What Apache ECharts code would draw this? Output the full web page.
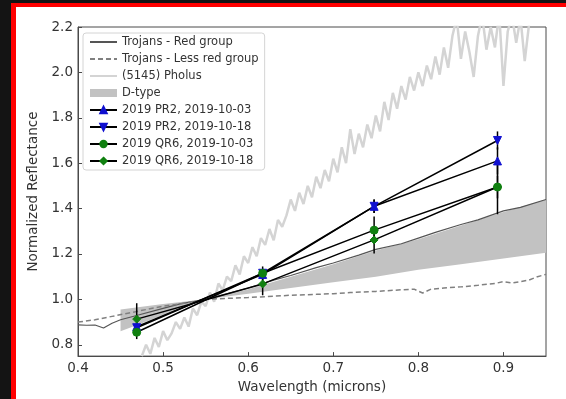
<!DOCTYPE html>
<html>
<head>
<meta charset="utf-8">
<script src="https://cdn.jsdelivr.net/npm/echarts@6/dist/echarts.min.js"></script>
<style>
  html, body { margin: 0; padding: 0; background: #141414; }
  #frame { position: absolute; left: 11px; top: 3px; width: 550px; height: 392px;
           border-left: 5px solid #f00; border-top: 4px solid #f00; background: #fff; }
  #chart { width: 550px; height: 392px; }
</style>
</head>
<body>
<div id="frame"><div id="chart"></div></div>
<script>
// tick labels
const xTicks = [0.4, 0.5, 0.6, 0.7, 0.8, 0.9];
const yTicks = [0.8, 1.0, 1.2, 1.4, 1.6, 1.8, 2.0, 2.2];

// Trojans - Red group
const redWl   = [0.40, 0.41, 0.42, 0.43, 0.44, 0.45, 0.47, 0.50, 0.52, 0.55, 0.58, 0.60, 0.63, 0.65, 0.68, 0.70, 0.73, 0.75, 0.78, 0.80, 0.82, 0.85, 0.87, 0.90, 0.92, 0.95];
const redRefl = [0.888, 0.886, 0.887, 0.874, 0.895, 0.91, 0.93, 0.96, 0.98, 1.0, 1.03, 1.05, 1.085, 1.105, 1.14, 1.16, 1.195, 1.22, 1.245, 1.27, 1.295, 1.33, 1.35, 1.39, 1.405, 1.44];

// Trojans - Less red group
const lessWl   = [0.40, 0.42, 0.44, 0.46, 0.48, 0.50, 0.52, 0.55, 0.58, 0.60, 0.62, 0.65, 0.68, 0.70, 0.72, 0.75, 0.78, 0.795, 0.805, 0.815, 0.83, 0.85, 0.87, 0.89, 0.90, 0.91, 0.93, 0.94, 0.95];
const lessRefl = [0.90, 0.91, 0.925, 0.94, 0.955, 0.97, 0.98, 1.0, 1.005, 1.008, 1.012, 1.018, 1.022, 1.025, 1.03, 1.035, 1.042, 1.045, 1.028, 1.045, 1.05, 1.055, 1.062, 1.07, 1.078, 1.072, 1.085, 1.10, 1.11];

// (5145) Pholus
const pholusWl = [0.475, 0.48, 0.485, 0.49, 0.495, 0.50, 0.505, 0.51, 0.515, 0.52, 0.525, 0.53, 0.535, 0.54, 0.545, 0.55, 0.555, 0.56, 0.565, 0.57, 0.575, 0.58, 0.585, 0.59, 0.595,
  0.60, 0.605, 0.61, 0.615, 0.62, 0.625, 0.63, 0.635, 0.64, 0.645, 0.65, 0.655, 0.66, 0.665, 0.67, 0.675, 0.68, 0.685, 0.69, 0.695,
  0.70, 0.705, 0.71, 0.715, 0.72, 0.725, 0.73, 0.735, 0.74, 0.745, 0.75, 0.755, 0.76, 0.765, 0.77, 0.775, 0.78, 0.785, 0.79, 0.795,
  0.80, 0.805, 0.81, 0.815, 0.82, 0.825, 0.83, 0.835, 0.84, 0.845, 0.85, 0.855, 0.86, 0.865, 0.87, 0.875, 0.88, 0.885, 0.89, 0.895,
  0.90, 0.905, 0.91, 0.915, 0.92, 0.925, 0.93];
const pholusRefl = [0.75, 0.80, 0.76, 0.83, 0.79, 0.86, 0.82, 0.85, 0.90, 0.87, 0.92, 0.88, 0.96, 0.93, 0.99, 0.97, 1.03, 0.99, 1.07, 1.04, 1.10, 1.08, 1.15, 1.11, 1.19,
  1.16, 1.23, 1.19, 1.27, 1.24, 1.31, 1.26, 1.35, 1.32, 1.37, 1.44, 1.39, 1.47, 1.42, 1.50, 1.45, 1.54, 1.49, 1.57, 1.52,
  1.62, 1.56, 1.67, 1.60, 1.75, 1.64, 1.73, 1.67, 1.77, 1.71, 1.81, 1.74, 1.87, 1.79, 1.91, 1.84, 1.94, 1.88, 1.98, 1.92,
  2.00, 1.94, 2.03, 1.97, 2.07, 1.99, 2.11, 2.02, 2.16, 2.24, 2.06, 2.18, 2.09, 1.98, 2.16, 2.25, 2.10, 2.20, 2.11, 2.26,
  1.94, 2.18, 2.25, 2.13, 2.24, 2.05, 2.21];

// D-type envelope
const dWl   = [0.45, 0.50, 0.55, 0.60, 0.65, 0.70, 0.75, 0.80, 0.85, 0.90, 0.95];
const dLow  = [0.86, 0.93, 1.0, 1.025, 1.05, 1.075, 1.10, 1.13, 1.155, 1.18, 1.205];
const dHigh = [0.955, 0.98, 1.0, 1.045, 1.10, 1.155, 1.215, 1.265, 1.325, 1.385, 1.44];

// photometry (g, r, i, z)
const obsWl = [0.469, 0.617, 0.748, 0.893];
const pr2Oct03 = [0.88, 1.11, 1.41, 1.61];
const pr2Oct03Err = [0.03, 0.02, 0.03, 0.06];
const pr2Oct18 = [0.875, 1.115, 1.41, 1.70];
const pr2Oct18Err = [0.03, 0.02, 0.03, 0.04];
const qr6Oct03 = [0.855, 1.115, 1.305, 1.495];
const qr6Oct03Err = [0.03, 0.03, 0.06, 0.12];
const qr6Oct18 = [0.913, 1.068, 1.262, 1.495];
const qr6Oct18Err = [0.07, 0.05, 0.06, 0.05];

const FONT = 'DejaVu Sans';
const zip = (xs, ys) => xs.map((x, i) => [x, ys[i]]);

function obsSeries(name, vals, symbol, color, rotate) {
  return {
    name: name, type: 'line', z: 6,
    data: zip(obsWl, vals),
    symbol: symbol, symbolSize: 8, symbolRotate: rotate || 0,
    itemStyle: { color: color, borderColor: color, borderWidth: 1 },
    lineStyle: { color: '#000', width: 1.5 }
  };
}

function errSeries(vals, errs) {
  return {
    type: 'custom', z: 5, silent: true,
    data: obsWl.map((x, i) => [x, vals[i] - errs[i], vals[i] + errs[i]]),
    renderItem: function (params, api) {
      const lo = api.coord([api.value(0), api.value(1)]);
      const hi = api.coord([api.value(0), api.value(2)]);
      return {
        type: 'line',
        shape: { x1: lo[0], y1: lo[1], x2: hi[0], y2: hi[1] },
        style: { stroke: '#000', lineWidth: 1.5 }
      };
    }
  };
}

let chart = echarts.init(document.getElementById('chart'));

const noSymbol = { opacity: 0 };

let option = {
  animation: false,
  textStyle: { fontFamily: FONT },
  grid: { left: 62, top: 20, right: 20, bottom: 35, show: true, borderColor: '#4a4a4a', borderWidth: 1 },
  legend: {
    orient: 'vertical', left: 67, top: 26,
    padding: [3, 6, 3, 6],
    itemWidth: 27, itemHeight: 8, itemGap: 5,
    backgroundColor: '#fff', borderColor: '#d4d4d4', borderWidth: 1, borderRadius: 3,
    selectedMode: false,
    textStyle: { fontFamily: FONT, fontSize: 11.5, color: '#333', lineHeight: 12 },
    data: [
      { name: 'Trojans - Red group', itemStyle: noSymbol },
      { name: 'Trojans - Less red group', itemStyle: noSymbol },
      { name: '(5145) Pholus', itemStyle: noSymbol },
      { name: 'D-type', icon: 'rect' },
      '2019 PR2, 2019-10-03', '2019 PR2, 2019-10-18', '2019 QR6, 2019-10-03', '2019 QR6, 2019-10-18'
    ]
  },
  xAxis: {
    type: 'value', min: 0.4, max: 0.95,
    name: 'Wavelength (microns)', nameLocation: 'middle', nameGap: 21,
    nameTextStyle: { fontFamily: FONT, fontSize: 13.5, color: '#333' },
    axisLine: { show: true, lineStyle: { color: '#4a4a4a' } },
    axisTick: { show: true, inside: true, length: 4, customValues: xTicks, lineStyle: { color: '#4a4a4a' } },
    axisLabel: { customValues: xTicks, margin: 5, fontFamily: FONT, fontSize: 13.5, color: '#333',
                 formatter: v => v.toFixed(1) },
    splitLine: { show: false }
  },
  yAxis: {
    type: 'value', min: 0.75, max: 2.2,
    name: 'Normalized Reflectance', nameLocation: 'middle', nameGap: 33,
    nameTextStyle: { fontFamily: FONT, fontSize: 13.5, color: '#333' },
    axisLine: { show: true, lineStyle: { color: '#4a4a4a' } },
    axisTick: { show: true, inside: true, length: 4, customValues: yTicks, lineStyle: { color: '#4a4a4a' } },
    axisLabel: { customValues: yTicks, margin: 5, fontFamily: FONT, fontSize: 13.5, color: '#333',
                 formatter: v => v.toFixed(1) },
    splitLine: { show: false }
  },
  series: [
    {
      // D-type envelope drawn as one polygon through the axis scales
      name: 'D-type', type: 'custom', z: 1, silent: true,
      itemStyle: { color: '#c2c2c2' },
      data: dWl.map((x, i) => [x, dLow[i], dHigh[i]]),
      renderItem: function (params, api) {
        if (params.dataIndex !== 0) return null;
        const n = dWl.length;
        const pts = [];
        for (let j = 0; j < n; j++) pts.push(api.coord([api.value(0, j), api.value(1, j)]));
        for (let j = n - 1; j >= 0; j--) pts.push(api.coord([api.value(0, j), api.value(2, j)]));
        return {
          type: 'polygon',
          shape: { points: pts },
          style: { fill: '#c2c2c2', stroke: 'none' }
        };
      }
    },
    {
      name: '(5145) Pholus', type: 'line', z: 2, data: zip(pholusWl, pholusRefl),
      symbol: 'none', itemStyle: { color: '#d4d4d4' },
      lineStyle: { color: '#d4d4d4', width: 2.5 }
    },
    {
      name: 'Trojans - Red group', type: 'line', z: 3, data: zip(redWl, redRefl),
      symbol: 'none', itemStyle: { color: '#555' },
      lineStyle: { color: '#555', width: 1.2 }
    },
    {
      name: 'Trojans - Less red group', type: 'line', z: 3, data: zip(lessWl, lessRefl),
      symbol: 'none', itemStyle: { color: '#808080' },
      lineStyle: { color: '#808080', width: 1.5, type: [5, 3] }
    },
    errSeries(pr2Oct03, pr2Oct03Err),
    errSeries(pr2Oct18, pr2Oct18Err),
    errSeries(qr6Oct03, qr6Oct03Err),
    errSeries(qr6Oct18, qr6Oct18Err),
    obsSeries('2019 PR2, 2019-10-03', pr2Oct03, 'triangle', '#1010d0'),
    obsSeries('2019 PR2, 2019-10-18', pr2Oct18, 'triangle', '#1010d0', 180),
    obsSeries('2019 QR6, 2019-10-03', qr6Oct03, 'circle', '#108010'),
    obsSeries('2019 QR6, 2019-10-18', qr6Oct18, 'diamond', '#108010')
  ]
};
chart.clear();
chart.setOption(option);
</script>
</body>
</html>
